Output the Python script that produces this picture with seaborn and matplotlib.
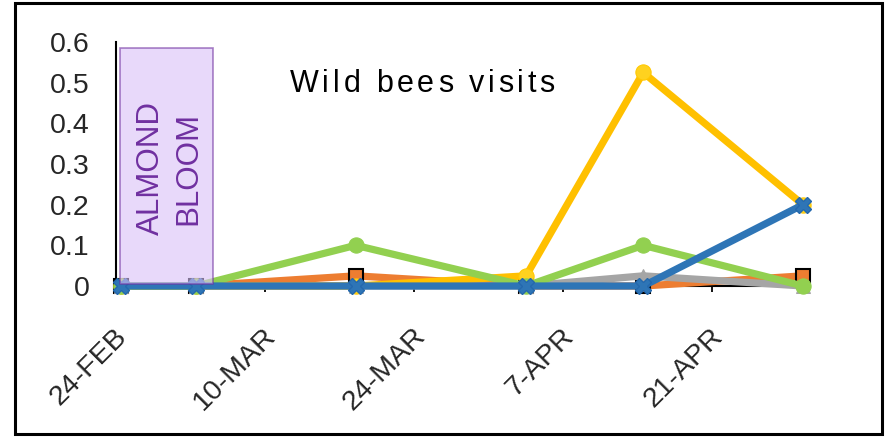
import matplotlib
matplotlib.use("Agg")
import matplotlib.pyplot as plt
import matplotlib.dates as mdates
from matplotlib import font_manager, ft2font
from matplotlib.font_manager import FontProperties
from matplotlib.patches import Rectangle
from matplotlib.transforms import ScaledTranslation
import pandas as pd
import seaborn as sns

# survey dates and visit rates per series
dates = pd.to_datetime(["2019-02-24", "2019-03-03", "2019-03-18",
                        "2019-04-03", "2019-04-14", "2019-04-29"])
orange_vals = [0, 0, 0.025, 0, 0, 0.025]
gray_vals = [0, 0, 0, 0, 0.025, 0]
yellow_vals = [0, 0, 0, 0.025, 0.525, 0.2]
green_vals = [0, 0, 0.1, 0, 0.1, 0]
blue_vals = [0, 0, 0, 0, 0, 0.2]

tick_dates = pd.to_datetime(["2019-02-24", "2019-03-10", "2019-03-24",
                             "2019-04-07", "2019-04-21"])
tick_labels = ["24-FEB", "10-MAR", "24-MAR", "7-APR", "21-APR"]
y_ticks = [0, 0.1, 0.2, 0.3, 0.4, 0.5, 0.6]

bloom_start = pd.Timestamp("2019-02-23 21:00")
bloom_end = pd.Timestamp("2019-03-04 14:00")

title = "Wild bees visits"

sns.set_style("white")
plt.rcParams["font.family"] = ["Liberation Sans", "DejaVu Sans"]

fig = plt.figure(figsize=(8.87, 4.38), dpi=100)
ax = fig.add_axes([116 / 887, 1 - 286 / 438, (803 - 116) / 887, (286 - 42) / 438])

series = [
    (orange_vals, "#ED7D31", "s", dict(ms=10, mec="black", mew=1.5)),
    (gray_vals, "#A5A5A5", "^", dict(ms=10, mec="#A5A5A5")),
    (yellow_vals, "#FFC000", "o", dict(ms=11, mfc="#FFD21F", mec="#FFC800")),
    (green_vals, "#92D050", "o", dict(ms=11, mec="#92D050")),
    (blue_vals, "#2E75B6", "X", dict(ms=12, mec="#2468AD", mew=1)),
]
for i, (vals, col, mk, kw) in enumerate(series):
    sns.lineplot(x=dates, y=vals, ax=ax, color=col, marker=mk, linewidth=5.2,
                 clip_on=False, zorder=3 + i, **kw)

# almond bloom box
x0 = mdates.date2num(bloom_start)
x1 = mdates.date2num(bloom_end)
ax.add_patch(Rectangle((x0, 0.005), x1 - x0, 0.58, facecolor="#D9C1F8",
                       alpha=0.6, edgecolor="#7030A0", lw=1.2, zorder=10,
                       clip_on=False))
ax.text((x0 + x1) / 2 + 0.3, 0.29, "ALMOND\nBLOOM", rotation=90, ha="center",
        va="center", color="#7030A0", fontsize=22.5, linespacing=1.3,
        zorder=11)

# date axis: ticks sit half a day before the plotted points
ax.set_xlim(mdates.date2num(dates[0]) - 0.5, mdates.date2num(dates[-1]))
ax.set_ylim(0, 0.6)
ax.set_yticks(y_ticks)
ax.set_yticklabels(["0" if v == 0 else f"{v:g}" for v in y_ticks], fontsize=20.5)
ax.set_xticks(mdates.date2num(tick_dates) - 0.5)
ax.set_xticklabels(tick_labels, rotation=45, ha="right", va="center",
                   rotation_mode="anchor", fontsize=20.5)
ax.tick_params(axis="y", length=0, pad=19)
ax.tick_params(axis="x", direction="out", length=4.5, width=1.3, pad=0,
               color="black", bottom=True)
offset = ScaledTranslation(0.07, -0.40, fig.dpi_scale_trans)
for lab in ax.get_xticklabels():
    lab.set_transform(lab.get_transform() + offset)
ax.set_xlabel("")
ax.set_ylabel("")

for side in ["top", "right"]:
    ax.spines[side].set_visible(False)
for side in ["left", "bottom"]:
    ax.spines[side].set_color("black")
    ax.spines[side].set_linewidth(1.5)

# title with widened letter spacing
fs = 22
spacing = 2.6
font = ft2font.FT2Font(font_manager.findfont(FontProperties(family="Liberation Sans")))
font.set_size(fs, 72)
off = 0.0
for ch in title:
    ax.annotate(ch, (290, 438 - 92), xycoords="figure pixels",
                xytext=(off, 0), textcoords="offset points",
                ha="left", va="baseline", fontsize=fs, color="black")
    off += font.load_char(ord(ch)).linearHoriAdvance / 65536 + spacing

# outer frame
fig.patches.append(Rectangle((15 / 887, 4 / 438), 867 / 887, 431 / 438,
                             transform=fig.transFigure, fill=False,
                             edgecolor="black", lw=2.2))

fig.savefig("out.png", dpi=100)
